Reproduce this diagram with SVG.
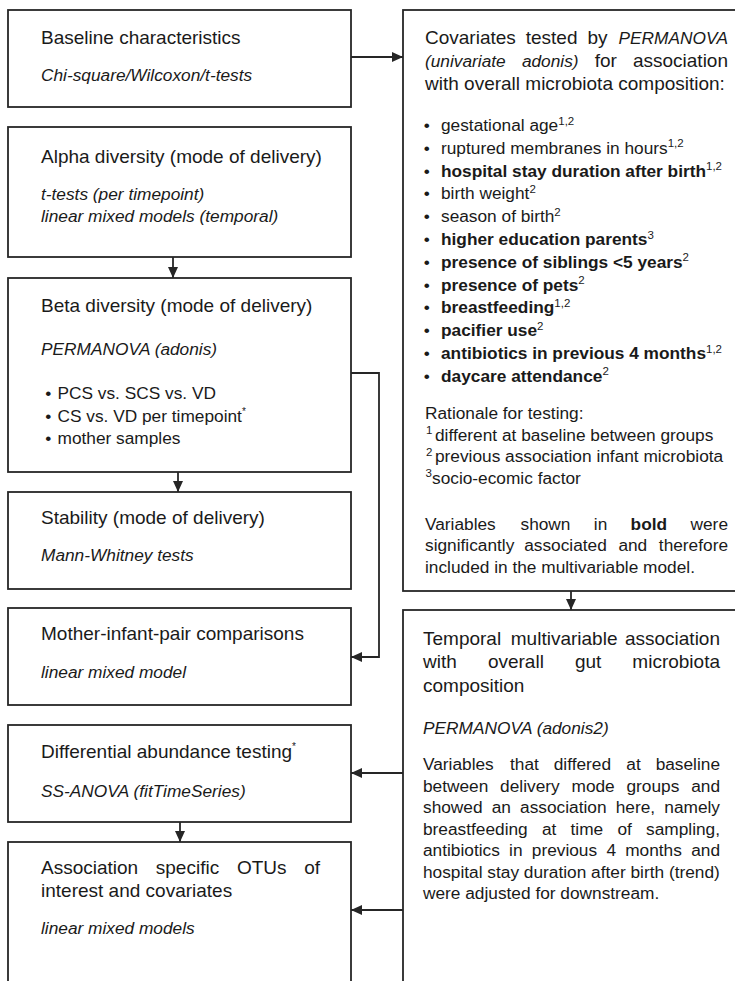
<svg xmlns="http://www.w3.org/2000/svg" width="735" height="981" viewBox="0 0 735 981">
<style>
.box{fill:#fff;stroke:#262626;stroke-width:1.8}
.con{fill:none;stroke:#262626;stroke-width:1.8}
text{font-family:"Liberation Sans",Arial,Helvetica,sans-serif;fill:#1a1a1a}
.h{font-size:19px}
.b{font-size:17.3px}
.i{font-style:italic}
.bd{font-weight:bold}
.sup{font-size:11.5px;font-weight:normal}
.ast{font-size:10px;font-weight:normal}
.e{text-anchor:end}
</style>
<defs>
<marker id="ah" viewBox="0 0 11 10" markerWidth="11" markerHeight="10" refX="11" refY="5" orient="auto" markerUnits="userSpaceOnUse">
<path d="M0,0 L11,5 L0,10 Z" fill="#262626"/>
</marker>
</defs>
<rect width="735" height="981" fill="#fff"/>

<g id="connectors">
<path class="con" d="M351,57 H403" marker-end="url(#ah)"/>
<path class="con" d="M173,257 V278" marker-end="url(#ah)"/>
<path class="con" d="M178,472 V492" marker-end="url(#ah)"/>
<path class="con" d="M351,373 H379 V657 H351" marker-end="url(#ah)"/>
<path class="con" d="M571,591 V610" marker-end="url(#ah)"/>
<path class="con" d="M403,773 H351" marker-end="url(#ah)"/>
<path class="con" d="M403,910 H351" marker-end="url(#ah)"/>
<path class="con" d="M180,822 V842" marker-end="url(#ah)"/>
</g>

<g id="baseline">
<rect class="box" x="8" y="10" width="343" height="97"/>
<text class="h" x="41" y="43.5">Baseline characteristics</text>
<text class="b i" x="41" y="80.5">Chi-square/Wilcoxon/t-tests</text>
</g>

<g id="alpha">
<rect class="box" x="8" y="127" width="343" height="130"/>
<text class="h" x="41" y="163">Alpha diversity (mode of delivery)</text>
<text class="b i" x="41" y="200">t-tests (per timepoint)</text>
<text class="b i" x="41" y="222">linear mixed models (temporal)</text>
</g>

<g id="beta">
<rect class="box" x="8" y="278" width="343" height="194"/>
<text class="h" x="41" y="312">Beta diversity (mode of delivery)</text>
<text class="b i" x="41" y="355">PERMANOVA (adonis)</text>
<text class="b" x="45.3" y="398.5">•</text><text class="b" x="57.5" y="398.5">PCS vs. SCS vs. VD</text>
<text class="b" x="45.3" y="421.5">•</text><text class="b" x="57.5" y="421.5">CS vs. VD per timepoint<tspan class="ast" dy="-7">*</tspan></text>
<text class="b" x="45.3" y="444">•</text><text class="b" x="57.5" y="444">mother samples</text>
</g>

<g id="stability">
<rect class="box" x="8" y="492" width="343" height="97"/>
<text class="h" x="41" y="523.5">Stability (mode of delivery)</text>
<text class="b i" x="41" y="561">Mann-Whitney tests</text>
</g>

<g id="mother-infant">
<rect class="box" x="8" y="608" width="343" height="97"/>
<text class="h" x="41" y="640">Mother-infant-pair comparisons</text>
<text class="b i" x="41" y="678">linear mixed model</text>
</g>

<g id="differential">
<rect class="box" x="8" y="725" width="343" height="97"/>
<text class="h" x="41" y="757.5">Differential abundance testing<tspan class="ast" dy="-8">*</tspan></text>
<text class="b i" x="41" y="797">SS-ANOVA (fitTimeSeries)</text>
</g>

<g id="association">
<rect class="box" x="8" y="842" width="343" height="200"/>
<text class="h" x="41" y="873.5">Association</text>
<text class="h" x="155.8" y="873.5">specific</text>
<text class="h" x="236.9" y="873.5">OTUs</text>
<text class="h e" x="320" y="873.5">of</text>
<text class="h" x="41" y="897">interest and covariates</text>
<text class="b i" x="41" y="934">linear mixed models</text>
</g>

<g id="covariates">
<rect class="box" x="403" y="10" width="400" height="581"/>
<text class="h" x="425" y="43.5">Covariates</text>
<text class="h" x="525.7" y="43.5">tested</text>
<text class="h" x="587.4" y="43.5">by</text>
<text class="b i e" x="728" y="43.5">PERMANOVA</text>
<text class="b i" x="425" y="66.5">(univariate</text>
<text class="b i" x="521.9" y="66.5">adonis)</text>
<text class="h" x="594.7" y="66.5">for</text>
<text class="h e" x="728" y="66.5">association</text>
<text class="h" x="425" y="89.5">with overall microbiota composition:</text>

<text class="b" x="423.7" y="131">•</text><text class="b" x="441" y="131">gestational age<tspan class="sup" dy="-6.5">1,2</tspan></text>
<text class="b" x="423.7" y="153.8">•</text><text class="b" x="441" y="153.8">ruptured membranes in hours<tspan class="sup" dy="-6.5">1,2</tspan></text>
<text class="b" x="423.7" y="176.6">•</text><text class="b bd" x="441" y="176.6">hospital stay duration after birth<tspan class="sup" dy="-6.5">1,2</tspan></text>
<text class="b" x="423.7" y="199.4">•</text><text class="b" x="441" y="199.4">birth weight<tspan class="sup" dy="-6.5">2</tspan></text>
<text class="b" x="423.7" y="222.2">•</text><text class="b" x="441" y="222.2">season of birth<tspan class="sup" dy="-6.5">2</tspan></text>
<text class="b" x="423.7" y="245">•</text><text class="b bd" x="441" y="245">higher education parents<tspan class="sup" dy="-6.5">3</tspan></text>
<text class="b" x="423.7" y="267.8">•</text><text class="b bd" x="441" y="267.8">presence of siblings &lt;5 years<tspan class="sup" dy="-6.5">2</tspan></text>
<text class="b" x="423.7" y="290.6">•</text><text class="b bd" x="441" y="290.6">presence of pets<tspan class="sup" dy="-6.5">2</tspan></text>
<text class="b" x="423.7" y="313.4">•</text><text class="b bd" x="441" y="313.4">breastfeeding<tspan class="sup" dy="-6.5">1,2</tspan></text>
<text class="b" x="423.7" y="336.2">•</text><text class="b bd" x="441" y="336.2">pacifier use<tspan class="sup" dy="-6.5">2</tspan></text>
<text class="b" x="423.7" y="359">•</text><text class="b bd" x="441" y="359">antibiotics in previous 4 months<tspan class="sup" dy="-6.5">1,2</tspan></text>
<text class="b" x="423.7" y="381.8">•</text><text class="b bd" x="441" y="381.8">daycare attendance<tspan class="sup" dy="-6.5">2</tspan></text>

<text class="b" x="425" y="419">Rationale for testing:</text>
<text class="sup" x="426" y="434">1</text><text class="b" x="435" y="440.5">different at baseline between groups</text>
<text class="sup" x="426" y="455.5">2</text><text class="b" x="435" y="462">previous association infant microbiota</text>
<text class="sup" x="425.5" y="477">3</text><text class="b" x="432" y="483.5">socio-ecomic factor</text>

<text class="b" x="425" y="529.5">Variables</text>
<text class="b" x="520.5" y="529.5">shown</text>
<text class="b" x="593.8" y="529.5">in</text>
<text class="b bd" x="630.6" y="529.5">bold</text>
<text class="b e" x="728" y="529.5">were</text>
<text class="b" x="425" y="551">significantly</text>
<text class="b" x="524.2" y="551">associated</text>
<text class="b" x="618.4" y="551">and</text>
<text class="b e" x="728" y="551">therefore</text>
<text class="b" x="425" y="572.5">included in the multivariable model.</text>
</g>

<g id="temporal">
<rect class="box" x="403" y="610" width="400" height="400"/>
<text class="h" x="423" y="645">Temporal</text>
<text class="h" x="510.8" y="645">multivariable</text>
<text class="h e" x="720" y="645">association</text>
<text class="h" x="423" y="668.3">with</text>
<text class="h" x="487.9" y="668.3">overall</text>
<text class="h" x="574.9" y="668.3">gut</text>
<text class="h e" x="720" y="668.3">microbiota</text>
<text class="h" x="423" y="691.6">composition</text>
<text class="b i" x="423" y="734">PERMANOVA (adonis2)</text>

<text class="b" x="423" y="770">Variables</text>
<text class="b" x="510" y="770">that</text>
<text class="b" x="553.7" y="770">differed</text>
<text class="b" x="626.3" y="770">at</text>
<text class="b e" x="720" y="770">baseline</text>

<text class="b" x="423" y="791.5">between</text>
<text class="b" x="500.1" y="791.5">delivery</text>
<text class="b" x="571.5" y="791.5">mode</text>
<text class="b" x="626.5" y="791.5">groups</text>
<text class="b e" x="720" y="791.5">and</text>

<text class="b" x="423" y="813">showed</text>
<text class="b" x="491.7" y="813">an</text>
<text class="b" x="520.1" y="813">association</text>
<text class="b" x="615.7" y="813">here,</text>
<text class="b e" x="720" y="813">namely</text>

<text class="b" x="423" y="834.5">breastfeeding</text>
<text class="b" x="542" y="834.5">at</text>
<text class="b" x="570.5" y="834.5">time</text>
<text class="b" x="617.4" y="834.5">of</text>
<text class="b e" x="720" y="834.5">sampling,</text>

<text class="b" x="423" y="856">antibiotics</text>
<text class="b" x="509.1" y="856">in</text>
<text class="b" x="531.8" y="856">previous</text>
<text class="b" x="606.4" y="856">4</text>
<text class="b" x="625.2" y="856">months</text>
<text class="b e" x="720" y="856">and</text>

<text class="b" x="423" y="877.5">hospital stay duration after birth (trend)</text>
<text class="b" x="423" y="899">were adjusted for downstream.</text>
</g>
</svg>
